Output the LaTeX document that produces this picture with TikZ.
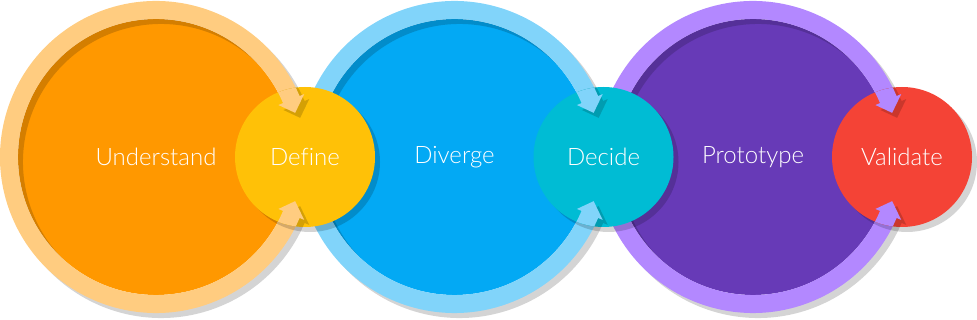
\documentclass[tikz,border=0pt]{standalone}
\usepackage{fontspec}
\IfFontExistsTF{Lato Light}{\setmainfont{Lato Light}[Ligatures=NoCommon]}{\setmainfont{Lato}[Ligatures=NoCommon]}
\usepackage{xcolor}
\usepackage{tikz}
\usetikzlibrary{calc}

\definecolor{understandC}{HTML}{FF9800}
\definecolor{understandR}{HTML}{FFCC80}
\definecolor{defineC}{HTML}{FFC107}
\definecolor{divergeC}{HTML}{03A9F4}
\definecolor{divergeR}{HTML}{81D4FA}
\definecolor{decideC}{HTML}{00BCD4}
\definecolor{prototypeC}{HTML}{673AB7}
\definecolor{prototypeR}{HTML}{B388FF}
\definecolor{validateC}{HTML}{F44336}

\tikzset{
    ringshape/.style={insert path={(23:156) arc[start angle=23, end angle=337, radius=156]
        -- (337:161) -- (342.4:146) -- (337:133) -- (337:138)
        arc[start angle=337, end angle=23, radius=138]
        -- (23:133) -- (17.6:146) -- (23:161) -- cycle}},
    shadowfill/.style={fill=black, fill opacity=0.17},
    phase/.style={circle, inner sep=0pt, text=white, font=\fontsize{24}{28}\selectfont}
}

\begin{document}
\begin{tikzpicture}[x=1pt, y=1pt]
    \useasboundingbox (0,-163) rectangle (977,157);

    % Big phases with their rings
    \foreach \nm/\cx/\fc/\rc/\txt in {understand/156/understandC/understandR/Understand,
        diverge/454.5/divergeC/divergeR/Diverge,
        prototype/753/prototypeC/prototypeR/Prototype}{
        \node[phase, fill=\fc, minimum size=276pt] (\nm) at (\cx,0) {\txt};
        \fill[shadowfill, shift={(\cx+5,-5)}, ringshape];
        \fill[\rc, shift={(\cx,0)}, ringshape];
    }

    % Small phases
    \foreach \nm/\cx/\fc/\txt in {define/305/defineC/Define,
        decide/603.5/decideC/Decide,
        validate/902/validateC/Validate}{
        \fill[shadowfill] (\cx+5,-5) circle[radius=70];
        \node[phase, fill=\fc, minimum size=140pt] (\nm) at (\cx,0) {\txt};
    }

    % Arrow ends on top of the small phases
    \foreach \bg/\sm in {understand/define, diverge/decide, prototype/validate}{
        \begin{scope}
            \clip (\sm) circle[radius=70];
            \fill[shadowfill, shift={($(\bg)+(5,-5)$)}, ringshape];
            \fill[\bg R, shift={(\bg)}, ringshape];
        \end{scope}
    }
\end{tikzpicture}
\end{document}
